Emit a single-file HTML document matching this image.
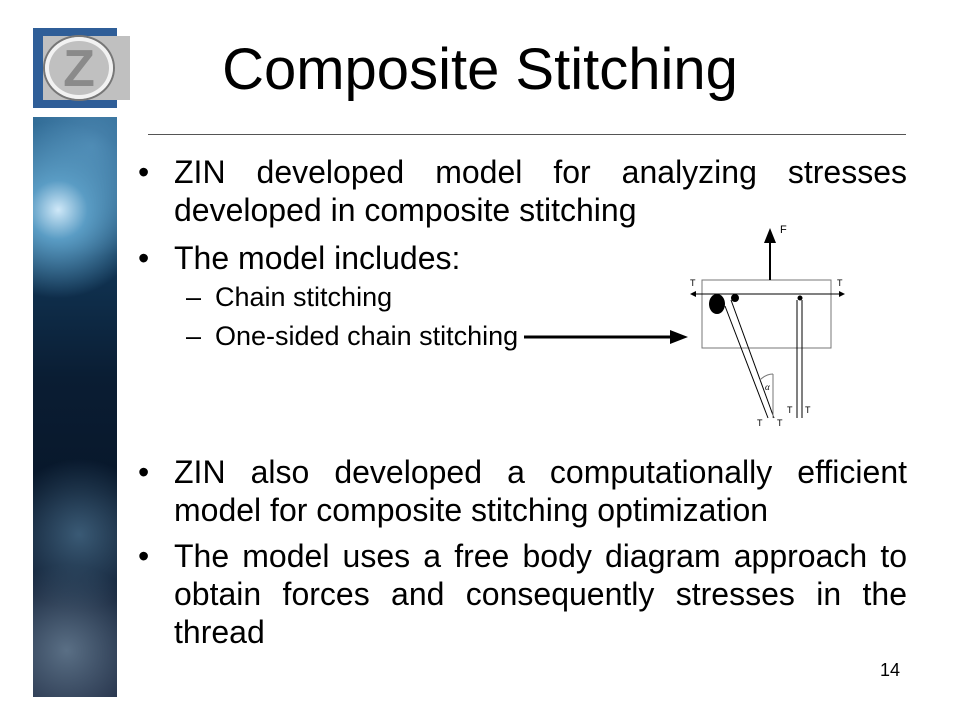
<!DOCTYPE html>
<html><head><style>
body{margin:0;width:960px;height:720px;background:#fff;position:relative;overflow:hidden;font-family:"Liberation Sans",Arial,sans-serif;color:#000}
.a{position:absolute}
.strip{left:33px;top:117px;width:84px;height:580px;background:radial-gradient(circle at 30% 16%,#cfe8f8 0,#5a9cc4 6%,transparent 18%),radial-gradient(circle at 70% 5%,#4b86b0 0,transparent 20%),radial-gradient(circle at 55% 72%,#3a5a75 0,transparent 18%),radial-gradient(circle at 40% 92%,#5a6f85 0,transparent 16%),linear-gradient(180deg,#1f5a85 0%,#123a5c 20%,#0a1d33 45%,#08172a 65%,#14233a 85%,#1e2a42 100%)}
.t{font-size:32px;line-height:38px;text-align:justify;text-align-last:left;left:174px;width:733px}
.b{left:138px;font-size:32px;line-height:38px}
.s{font-size:27px;left:215px;line-height:38px}
.d{left:186px;font-size:27px;line-height:38px}
</style></head><body>
<div class="a" style="left:33px;top:28px;width:84px;height:80px;background:#2f5e98"></div>
<div class="a" style="left:43px;top:36px;width:87px;height:64px;background:#c0c0c0"></div>
<div class="a" style="left:45px;top:37px;width:68px;height:62px;border-radius:50%;border:4px solid #f2f2f2;box-shadow:0 0 0 2px #777;box-sizing:border-box;text-align:center;font:bold 52px 'Liberation Sans';color:#8a8a8a;line-height:56px">Z</div>
<div class="a strip"></div>
<div class="a" style="left:150px;top:36px;width:660px;text-align:center;font-size:58px;line-height:68px">Composite Stitching</div>
<div class="a" style="left:148px;top:134px;width:758px;height:1px;background:#555"></div>
<div class="a b" style="top:153px">•</div>
<div class="a t" style="top:153px">ZIN developed model for analyzing stresses developed in composite stitching</div>
<div class="a b" style="top:239px">•</div>
<div class="a t" style="top:239px">The model includes:</div>
<div class="a d" style="top:278px">–</div><div class="a s" style="top:278px">Chain stitching</div>
<div class="a d" style="top:317px">–</div><div class="a s" style="top:317px">One-sided chain stitching</div>
<div class="a b" style="top:453px">•</div>
<div class="a t" style="top:453px">ZIN also developed a computationally efficient model for composite stitching optimization</div>
<div class="a b" style="top:537px">•</div>
<div class="a t" style="top:537px">The model uses a free body diagram approach to obtain forces and consequently stresses in the thread</div>
<div class="a" style="left:880px;top:660px;font-size:18px">14</div>
<svg class="a" style="left:0;top:0" width="960" height="720">
<line x1="524" y1="337" x2="672" y2="337" stroke="#000" stroke-width="3"/>
<polygon points="670,330 688,337 670,344" fill="#000"/>
<rect x="702" y="280" width="129" height="68" fill="none" stroke="#777" stroke-width="1"/>
<line x1="770" y1="280" x2="770" y2="240" stroke="#000" stroke-width="2"/>
<polygon points="764,243 770,228 776,243" fill="#000"/>
<text x="780" y="233" font-size="11" font-family="Liberation Sans">F</text>
<line x1="692" y1="294" x2="842" y2="294" stroke="#000" stroke-width="1"/>
<polygon points="690,294 696,291 696,297" fill="#000"/><polygon points="845,294 839,291 839,297" fill="#000"/>
<text x="690" y="286" font-size="9" font-family="Liberation Sans">T</text>
<text x="837" y="286" font-size="9" font-family="Liberation Sans">T</text>
<ellipse cx="717" cy="304" rx="8" ry="10" fill="#000"/>
<circle cx="735" cy="298" r="4" fill="#000"/>
<circle cx="800" cy="298" r="2.5" fill="#000"/>
<line x1="725" y1="306" x2="768" y2="418" stroke="#000" stroke-width="1"/>
<line x1="731" y1="300" x2="774" y2="418" stroke="#000" stroke-width="1"/>
<line x1="797" y1="300" x2="797" y2="418" stroke="#000"/>
<line x1="802" y1="300" x2="802" y2="418" stroke="#000"/>
<line x1="773" y1="374" x2="773" y2="418" stroke="#777"/>
<path d="M760 380 Q766 374 773 374" fill="none" stroke="#777"/>
<text x="765" y="390" font-size="9" font-style="italic" font-family="Liberation Serif">α</text>
<text x="757" y="426" font-size="9" font-family="Liberation Sans">T</text>
<text x="777" y="426" font-size="9" font-family="Liberation Sans">T</text>
<text x="787" y="413" font-size="9" font-family="Liberation Sans">T</text>
<text x="805" y="413" font-size="9" font-family="Liberation Sans">T</text>
</svg>
</body></html>
